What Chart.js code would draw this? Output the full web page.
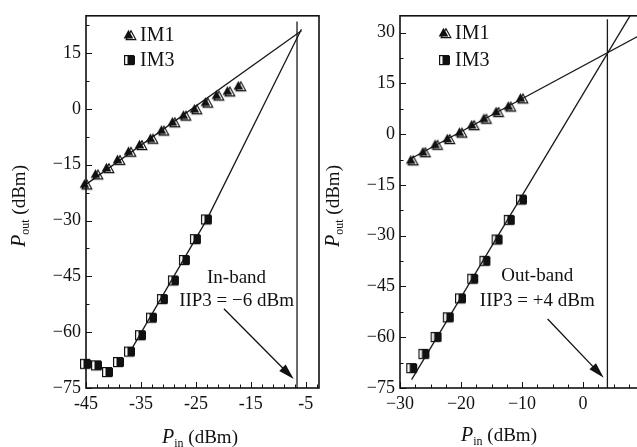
<!DOCTYPE html>
<html>
<head>
<meta charset="utf-8">
<script src="https://cdn.jsdelivr.net/npm/chart.js@4.4.0/dist/chart.umd.min.js"></script>
<style>
  body { margin: 0; width: 637px; height: 447px; overflow: hidden; background: #fff; position: relative; }
  #grafico1 { position: absolute; left: 0; top: 0; }
  #grafico2 { position: absolute; left: 320px; top: 0; }
</style>
</head>
<body>
<canvas id="grafico1" width="330" height="447"></canvas>
<canvas id="grafico2" width="330" height="447"></canvas>
<script>
// left panel (in-band)
var pinIm1Esq = [-45, -43, -41, -39, -37, -35, -33, -31, -29, -27, -25, -23, -21, -19, -17];
var poutIm1Esq = [-20.3, -17.6, -15.9, -13.7, -11.5, -9.7, -8.0, -5.8, -3.6, -1.8, -0.1, 1.7, 3.6, 4.7, 6.1];
var pinIm3Esq = [-45, -43, -41, -39, -37, -35, -33, -31, -29, -27, -25, -23];
var poutIm3Esq = [-68.5, -68.9, -70.7, -68.0, -65.2, -60.8, -56.1, -51.1, -46.1, -40.6, -35.0, -29.7];
// fitted lines (x list, y list)
var retaIm1EsqX = [-45, -5.8];
var retaIm1EsqY = [-20.3, 21.0];
var retaIm3EsqX = [-37, -23, -5.8];
var retaIm3EsqY = [-65.3, -29.7, 21.4];
var iip3EsqX = -6.6;
var iip3EsqY = [-75, 23.5];
var setaEsq = [-19.9, -53.7, -7.2, -72.6];
var notaEsq = ['In-band', 'IIP3 = \u22126 dBm'];

// right panel (out-band)
var pinIm1Dir = [-28, -26, -24, -22, -20, -18, -16, -14, -12, -10];
var poutIm1Dir = [-7.7, -5.3, -3.1, -1.4, 0.5, 2.7, 4.6, 6.6, 8.2, 10.6];
var pinIm3Dir = [-28, -26, -24, -22, -20, -18, -16, -14, -12, -10];
var poutIm3Dir = [-69.1, -64.9, -59.9, -54.1, -48.5, -42.7, -37.4, -31.1, -25.3, -19.3];
var retaIm1DirX = [-28.4, 10];
var retaIm1DirY = [-7.4, 29.9];
var retaIm3DirX = [-28.1, 7.7];
var retaIm3DirY = [-72.5, 35];
var iip3DirX = 4;
var iip3DirY = [-75, 34];
var setaDir = [-5.8, -54.6, 3.4, -72];
var notaDir = ['Out-band', 'IIP3 = +4 dBm'];

// axes ticks
var xMajorEsq = [-45, -35, -25, -15, -5];
var yMajorEsq = [-75, -60, -45, -30, -15, 0, 15];
var xMajorDir = [-30, -20, -10, 0];
var yMajorDir = [-75, -60, -45, -30, -15, 0, 15, 30];
var legendas = ['IM1', 'IM3'];

var FONTE = '"Liberation Serif", "DejaVu Serif", serif';

function pontos(xs, ys) {
  return xs.map(function (x, i) { return { x: x, y: ys[i] }; });
}

function passos(ini, fim, passo) {
  var r = [];
  for (var v = ini; v <= fim + 1e-6; v += passo) r.push(Math.round(v * 100) / 100);
  return r;
}

// marker: black triangle with hollow triangle a bit to the right
function marcaTriangulo() {
  var c = document.createElement('canvas');
  c.width = 16; c.height = 16;
  var g = c.getContext('2d');
  function tri(cx, cy, r) {
    g.beginPath();
    g.moveTo(cx, cy - r);
    g.lineTo(cx + r, cy + r * 0.85);
    g.lineTo(cx - r, cy + r * 0.85);
    g.closePath();
  }
  g.fillStyle = '#111';
  tri(6.5, 7.5, 4.8); g.fill();
  g.strokeStyle = '#111'; g.lineWidth = 1.2;
  tri(9, 8.5, 4.8); g.stroke();
  return c;
}

// marker: hollow square on the left, black square on the right
function marcaQuadrado() {
  var c = document.createElement('canvas');
  c.width = 14; c.height = 14;
  var g = c.getContext('2d');
  g.fillStyle = '#111';
  g.fillRect(4.5, 3, 7.5, 8.5);
  g.strokeStyle = '#111'; g.lineWidth = 1.2;
  g.strokeRect(1.6, 2.6, 9, 9);
  return c;
}

var imgTri = marcaTriangulo();
var imgQuad = marcaQuadrado();

function tituloEixo(ctx, x, y, rot, sub) {
  ctx.save();
  ctx.translate(x, y);
  ctx.rotate(rot);
  ctx.textBaseline = 'alphabetic';
  ctx.textAlign = 'left';
  ctx.font = 'italic 20px ' + FONTE;
  var wP = ctx.measureText('P').width;
  ctx.font = '12px ' + FONTE;
  var wS = ctx.measureText(sub).width;
  ctx.font = '19px ' + FONTE;
  var wD = ctx.measureText(' (dBm)').width;
  var x0 = -(wP + wS + wD) / 2;
  ctx.fillStyle = '#111';
  ctx.font = 'italic 20px ' + FONTE;
  ctx.fillText('P', x0, 6);
  ctx.font = '12px ' + FONTE;
  ctx.fillText(sub, x0 + wP, 10);
  ctx.font = '19px ' + FONTE;
  ctx.fillText(' (dBm)', x0 + wP + wS, 6);
  ctx.restore();
}

var extras = {
  id: 'extras',
  afterDraw: function (chart, args, o) {
    var ctx = chart.ctx, a = chart.chartArea;
    var sx = chart.scales.x, sy = chart.scales.y;
    ctx.save();
    ctx.strokeStyle = '#111';
    ctx.fillStyle = '#111';
    ctx.lineWidth = 1;
    // inward ticks
    o.xMinor.forEach(function (v) {
      var p = Math.round(sx.getPixelForValue(v)) + 0.5;
      var len = o.xMajor.indexOf(v) >= 0 ? 6 : 3.5;
      ctx.beginPath(); ctx.moveTo(p, a.bottom); ctx.lineTo(p, a.bottom - len); ctx.stroke();
    });
    o.yMinor.forEach(function (v) {
      var p = Math.round(sy.getPixelForValue(v)) + 0.5;
      var len = o.yMajor.indexOf(v) >= 0 ? 6 : 3.5;
      ctx.beginPath(); ctx.moveTo(a.left, p); ctx.lineTo(a.left + len, p); ctx.stroke();
    });
    // frame
    ctx.lineWidth = 1.6;
    ctx.strokeRect(a.left, a.top, a.right - a.left, a.bottom - a.top);
    // arrow
    var x0 = sx.getPixelForValue(o.seta[0]), y0 = sy.getPixelForValue(o.seta[1]);
    var x1 = sx.getPixelForValue(o.seta[2]), y1 = sy.getPixelForValue(o.seta[3]);
    var ang = Math.atan2(y1 - y0, x1 - x0);
    ctx.lineWidth = 1.3;
    ctx.beginPath(); ctx.moveTo(x0, y0);
    ctx.lineTo(x1 - 10 * Math.cos(ang), y1 - 10 * Math.sin(ang)); ctx.stroke();
    ctx.beginPath();
    ctx.moveTo(x1, y1);
    ctx.lineTo(x1 - 16 * Math.cos(ang) + 4.5 * Math.sin(ang), y1 - 16 * Math.sin(ang) - 4.5 * Math.cos(ang));
    ctx.lineTo(x1 - 16 * Math.cos(ang) - 4.5 * Math.sin(ang), y1 - 16 * Math.sin(ang) + 4.5 * Math.cos(ang));
    ctx.closePath(); ctx.fill();
    // notes
    ctx.font = '19px ' + FONTE;
    ctx.textAlign = 'center';
    ctx.textBaseline = 'middle';
    ctx.fillText(o.nota[0], sx.getPixelForValue(o.notaPos[0]), sy.getPixelForValue(o.notaPos[1]));
    ctx.fillText(o.nota[1], sx.getPixelForValue(o.notaPos[0]), sy.getPixelForValue(o.notaPos[2]));
    // legend
    ctx.textAlign = 'left';
    ctx.font = '20px ' + FONTE;
    ctx.drawImage(imgTri, a.left + o.leg[0] - 8, o.leg[1] - 8);
    ctx.fillText(legendas[0], a.left + o.leg[0] + 10, o.leg[1] + 1);
    ctx.drawImage(imgQuad, a.left + o.leg[0] - 7, o.leg[2] - 7);
    ctx.fillText(legendas[1], a.left + o.leg[0] + 10, o.leg[2] + 1);
    ctx.restore();
    // axis titles
    tituloEixo(ctx, o.tituloX[0], o.tituloX[1], 0, 'in');
    tituloEixo(ctx, o.tituloY[0], o.tituloY[1], -Math.PI / 2, 'out');
  }
};

function montarGrafico(id, cfg) {
  var estiloLinha = { showLine: true, pointRadius: 0, borderColor: '#1a1a1a', borderWidth: 1.3, fill: false };
  var config = {
    type: 'scatter',
    data: {
      datasets: [
        { label: legendas[0], data: cfg.im1, pointStyle: imgTri, pointRadius: 5, clip: false },
        { label: legendas[1], data: cfg.im3, pointStyle: imgQuad, pointRadius: 5, clip: false },
        Object.assign({ data: cfg.reta1 }, estiloLinha),
        Object.assign({ data: cfg.reta3 }, estiloLinha),
        Object.assign({ data: cfg.vertical }, estiloLinha)
      ]
    },
    options: {
      responsive: false,
      animation: false,
      devicePixelRatio: 1,
      layout: { padding: cfg.padding },
      plugins: {
        legend: { display: false },
        tooltip: { enabled: false },
        extras: cfg.extras
      },
      scales: {
        x: {
          type: 'linear', min: cfg.xMin, max: cfg.xMax,
          grid: { display: false, drawTicks: false },
          border: { display: false },
          afterBuildTicks: function (s) { s.ticks = cfg.xMajor.map(function (v) { return { value: v }; }); },
          afterFit: function (s) { s.height = 59; },
          ticks: {
            padding: 5, color: '#111', font: { family: FONTE, size: 18 },
            callback: function (v) { return v < 0 ? cfg.menosX + Math.abs(v) : String(v); }
          }
        },
        y: {
          type: 'linear', min: cfg.yMin, max: cfg.yMax,
          grid: { display: false, drawTicks: false },
          border: { display: false },
          afterBuildTicks: function (s) { s.ticks = cfg.yMajor.map(function (v) { return { value: v }; }); },
          afterFit: function (s) { s.width = cfg.larguraY; },
          ticks: {
            padding: 5, color: '#111', font: { family: FONTE, size: 18 },
            callback: function (v) { return v < 0 ? '\u2212' + Math.abs(v) : String(v); }
          }
        }
      }
    },
    plugins: [extras]
  };
  return new Chart(document.getElementById(id), config);
}

window.grafico1 = montarGrafico('grafico1', {
  im1: pontos(pinIm1Esq, poutIm1Esq),
  im3: pontos(pinIm3Esq, poutIm3Esq),
  reta1: pontos(retaIm1EsqX, retaIm1EsqY),
  reta3: pontos(retaIm3EsqX, retaIm3EsqY),
  vertical: pontos([iip3EsqX, iip3EsqX], iip3EsqY),
  xMin: -45, xMax: -2.6, yMin: -75, yMax: 25,
  xMajor: xMajorEsq, yMajor: yMajorEsq,
  menosX: '-',
  larguraY: 86,
  padding: { left: 0, right: 11, top: 8, bottom: 0 },
  extras: {
    xMajor: xMajorEsq, yMajor: yMajorEsq,
    xMinor: passos(-45, -3, 2), yMinor: passos(-75, 22.5, 7.5),
    seta: setaEsq, nota: notaEsq, notaPos: [-17.6, -45.5, -51.6],
    leg: [44, 35, 60],
    tituloX: [200, 437], tituloY: [19, 206]
  }
});

window.grafico2 = montarGrafico('grafico2', {
  im1: pontos(pinIm1Dir, poutIm1Dir),
  im3: pontos(pinIm3Dir, poutIm3Dir),
  reta1: pontos(retaIm1DirX, retaIm1DirY),
  reta3: pontos(retaIm3DirX, retaIm3DirY),
  vertical: pontos([iip3DirX, iip3DirX], iip3DirY),
  xMin: -30, xMax: 10, yMin: -75, yMax: 35,
  xMajor: xMajorDir, yMajor: yMajorDir,
  menosX: '\u2212',
  larguraY: 80,
  padding: { left: 0, right: 5, top: 8, bottom: 0 },
  extras: {
    xMajor: xMajorDir, yMajor: yMajorDir,
    xMinor: passos(-30, 10, 2.5), yMinor: passos(-75, 30, 7.5),
    seta: setaDir, nota: notaDir, notaPos: [-7.5, -42, -49.3],
    leg: [45, 33, 60],
    tituloX: [179, 435], tituloY: [13, 206]
  }
});
</script>
</body>
</html>
